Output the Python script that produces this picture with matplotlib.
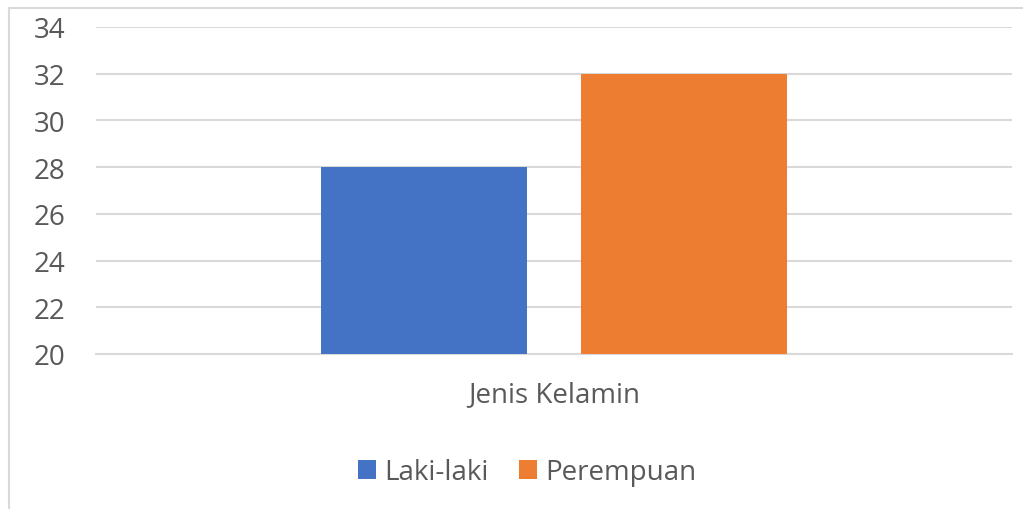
import matplotlib
matplotlib.use("Agg")
import matplotlib.pyplot as plt
from matplotlib.patches import Rectangle

categories = ["Jenis Kelamin"]
series_names = ["Laki-laki", "Perempuan"]
values = [[28], [32]]
colors = ["#4472C4", "#ED7D31"]
yticks = [20, 22, 24, 26, 28, 30, 32, 34]

plt.rcParams['font.family'] = ['Open Sans', 'DejaVu Sans']
W, H = 1023, 510
fig = plt.figure(figsize=(W/100, H/100), dpi=100)
ax = fig.add_axes([96/W, 1-355/H, (1012-96)/W, (355-28)/H])

bar_w = 0.225
gap = 0.059
offsets = [-(bar_w/2 + gap/2), (bar_w/2 + gap/2)]
for i, (name, vals) in enumerate(zip(series_names, values)):
    xs = [j + offsets[i] for j in range(len(categories))]
    ax.bar(xs, [v - 20 for v in vals], bottom=20, width=bar_w, color=colors[i], label=name, zorder=3)

ax.set_xlim(-0.5, 0.5)
ax.set_ylim(20, 34)
ax.set_yticks(yticks)
ax.set_yticklabels([str(t) for t in yticks])
ax.set_xticks(range(len(categories)))
ax.set_xticklabels(categories)
ax.grid(axis='y', color='#D9D9D9', linewidth=1.5, zorder=0)
for s in ax.spines.values():
    s.set_visible(False)
ax.spines['bottom'].set_visible(True)
ax.spines['bottom'].set_color('#D9D9D9')
ax.spines['bottom'].set_linewidth(1.5)
ax.tick_params(axis='y', length=0, pad=22, labelsize=20, labelcolor='#595959')
ax.tick_params(axis='x', length=0, pad=19, labelsize=20, labelcolor='#595959')

leg = fig.legend(loc='center', bbox_to_anchor=(527/W, 1-473/H), ncol=2, frameon=False,
                 fontsize=20, handlelength=0.65, handleheight=0.65, handletextpad=0.3,
                 columnspacing=1.1, labelcolor='#595959')

fig.patches.append(Rectangle((8.5/W, -0.1), 1.2, 1-9/H+0.1, transform=fig.transFigure,
                             fill=False, edgecolor='#D9D9D9', linewidth=1.5))
fig.savefig("out.png", dpi=100)
